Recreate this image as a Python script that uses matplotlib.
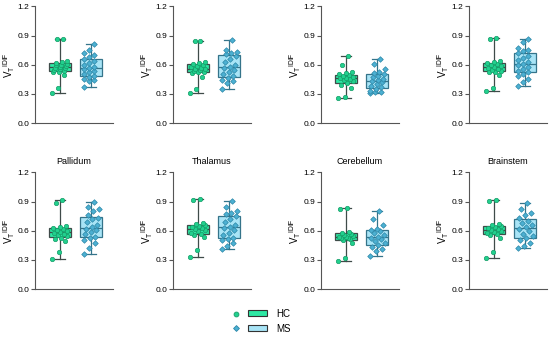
import numpy as np
import matplotlib
matplotlib.use('Agg')
import matplotlib.pyplot as plt
from matplotlib.lines import Line2D
from matplotlib.patches import Patch
from matplotlib.legend_handler import HandlerTuple

plt.rcParams['font.family'] = ['Liberation Sans', 'DejaVu Sans']

# panel titles (top row has none visible)
titles = ['', '', '', '', 'Pallidum', 'Thalamus', 'Cerebellum', 'Brainstem']

# HC values per region
hc = [
    [0.86, 0.86, 0.31, 0.36, 0.49, 0.52, 0.53, 0.54, 0.55, 0.56, 0.57, 0.57, 0.58, 0.59, 0.60, 0.60, 0.61, 0.62, 0.63, 0.64],
    [0.84, 0.84, 0.31, 0.35, 0.47, 0.51, 0.52, 0.53, 0.54, 0.55, 0.56, 0.56, 0.57, 0.58, 0.59, 0.60, 0.61, 0.62, 0.63],
    [0.26, 0.27, 0.36, 0.39, 0.41, 0.43, 0.44, 0.45, 0.46, 0.46, 0.47, 0.48, 0.49, 0.50, 0.51, 0.52, 0.60, 0.69],
    [0.87, 0.86, 0.33, 0.36, 0.49, 0.52, 0.53, 0.54, 0.55, 0.56, 0.57, 0.58, 0.59, 0.60, 0.61, 0.62, 0.63, 0.64],
    [0.92, 0.89, 0.31, 0.38, 0.49, 0.51, 0.53, 0.55, 0.56, 0.57, 0.58, 0.59, 0.60, 0.61, 0.62, 0.63, 0.64, 0.65],
    [0.93, 0.92, 0.33, 0.40, 0.54, 0.56, 0.57, 0.58, 0.60, 0.61, 0.62, 0.63, 0.64, 0.65, 0.66, 0.67, 0.68],
    [0.83, 0.82, 0.29, 0.32, 0.47, 0.50, 0.51, 0.52, 0.53, 0.54, 0.54, 0.55, 0.56, 0.57, 0.58, 0.59],
    [0.92, 0.91, 0.32, 0.38, 0.53, 0.56, 0.57, 0.58, 0.59, 0.60, 0.61, 0.62, 0.63, 0.64, 0.65, 0.66, 0.67],
]

# MS values per region
ms = [
    [0.37, 0.43, 0.44, 0.45, 0.47, 0.48, 0.50, 0.52, 0.54, 0.56, 0.57, 0.58, 0.60, 0.62, 0.64, 0.66, 0.68, 0.70, 0.72, 0.75, 0.81],
    [0.35, 0.41, 0.43, 0.44, 0.46, 0.48, 0.50, 0.53, 0.55, 0.57, 0.58, 0.60, 0.63, 0.66, 0.69, 0.71, 0.72, 0.73, 0.75, 0.85],
    [0.31, 0.32, 0.32, 0.33, 0.35, 0.37, 0.38, 0.40, 0.42, 0.43, 0.44, 0.45, 0.47, 0.48, 0.50, 0.51, 0.52, 0.56, 0.61, 0.66],
    [0.38, 0.42, 0.45, 0.48, 0.50, 0.52, 0.54, 0.56, 0.58, 0.60, 0.61, 0.63, 0.65, 0.67, 0.69, 0.72, 0.74, 0.75, 0.77, 0.83, 0.86],
    [0.36, 0.42, 0.47, 0.50, 0.52, 0.54, 0.57, 0.59, 0.61, 0.62, 0.64, 0.66, 0.69, 0.72, 0.73, 0.76, 0.80, 0.82, 0.84, 0.90],
    [0.41, 0.44, 0.47, 0.50, 0.51, 0.53, 0.56, 0.58, 0.61, 0.63, 0.64, 0.66, 0.69, 0.72, 0.75, 0.77, 0.78, 0.80, 0.84, 0.91],
    [0.34, 0.39, 0.41, 0.43, 0.45, 0.47, 0.49, 0.51, 0.53, 0.54, 0.56, 0.58, 0.60, 0.61, 0.62, 0.66, 0.72, 0.80],
    [0.42, 0.44, 0.47, 0.50, 0.52, 0.55, 0.57, 0.60, 0.62, 0.64, 0.66, 0.68, 0.70, 0.73, 0.76, 0.78, 0.82, 0.89],
]

groups = ['HC', 'MS']
box_fill = ['#2ee8a4', '#a8e4f6']
box_edge = ['#3f4b49', '#35748a']
pt_fill = ['#22d08e', '#4cb0d2']
pt_edge = ['#159c68', '#2d88a8']
pt_mark = ['o', 'D']

fig = plt.figure(figsize=(5.5, 3.46), dpi=100)

lefts = [35, 173, 321, 469]
bottoms = [1 - 123 / 346, 1 - 289 / 346]
w = 78 / 550
h = 0.337


def spread(n, width=0.24):
    # deterministic horizontal spread for the dots
    base = np.linspace(-width, width, n)
    order = (np.arange(n) * 7) % n
    return base[order]


for k in range(8):
    r, c = divmod(k, 4)
    ax = fig.add_axes([lefts[c] / 550, bottoms[r], w, h])
    for g, vals in enumerate([hc[k], ms[k]]):
        bp = ax.boxplot(vals, positions=[g], widths=0.7, whis=(0, 100),
                        patch_artist=True, showfliers=False, zorder=2)
        for b in bp['boxes']:
            b.set(facecolor=box_fill[g], edgecolor=box_edge[g], linewidth=0.9)
        for key in ['whiskers', 'caps', 'medians']:
            for ln in bp[key]:
                ln.set(color=box_edge[g], linewidth=0.9)
        for cap in bp['caps']:
            cap.set_xdata(np.array([g - 0.17, g + 0.17]))
        v = np.sort(np.array(vals))
        ax.scatter(g + spread(len(v)), v, s=10 if g == 0 else 8, marker=pt_mark[g],
                   facecolor=pt_fill[g], edgecolor=pt_edge[g], linewidth=0.5, zorder=3)
    ax.set_xlim(-0.8, 1.7)
    ax.set_ylim(0, 1.2)
    ax.set_yticks([0.0, 0.3, 0.6, 0.9, 1.2])
    ax.set_yticklabels(['0.0', '0.3', '0.6', '0.9', '1.2'])
    ax.set_xticks([])
    for s in ['top', 'right']:
        ax.spines[s].set_visible(False)
    ax.spines['left'].set_color('#555555')
    ax.spines['bottom'].set_color('#555555')
    ax.spines['left'].set_linewidth(0.8)
    ax.spines['bottom'].set_linewidth(0.8)
    ax.tick_params(axis='y', labelsize=6, length=3, width=0.8, color='#555555', pad=1.2)
    ax.set_ylabel(r'$\mathregular{V_T}^{\mathregular{IDIF}}$', fontsize=7, labelpad=0.5)
    if titles[k]:
        ax.set_title(titles[k], fontsize=6.5, pad=6)

handles = []
for g in range(2):
    m = Line2D([], [], marker=pt_mark[g], linestyle='none', markersize=3.5 if g == 0 else 3,
               markerfacecolor=pt_fill[g], markeredgecolor=pt_edge[g], markeredgewidth=0.6)
    p = Patch(facecolor=box_fill[g], edgecolor='#333333', linewidth=0.8)
    handles.append((m, p))
fig.legend(handles, groups, handler_map={tuple: HandlerTuple(ndivide=None, pad=0.3)},
           loc='center', bbox_to_anchor=(0.47, 0.072), frameon=False, fontsize=7,
           handlelength=4.2, handleheight=0.5, labelspacing=0.5, handletextpad=0.9)

fig.savefig('out.png', dpi=100)
